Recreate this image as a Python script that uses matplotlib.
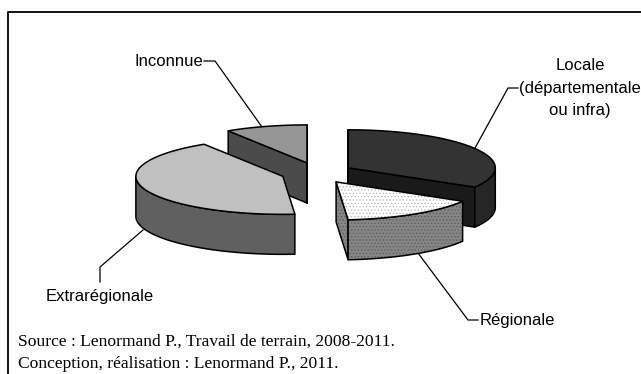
import numpy as np
import matplotlib
matplotlib.use("Agg")
import matplotlib.pyplot as plt
from matplotlib.patches import Polygon

## Data: shares of the pie in percent, clockwise from the top
labels = ["Locale", "Régionale", "Extrarégionale", "Inconnue"]
shares = [33.5, 15.2, 42.3, 9]

## Colours of each slice
top_colors = ["#333333", "#ffffff", "#c0c0c0", "#969696"]
rim_colors = ["#262626", "#858585", "#606060", "#4b4b4b"]
face_colors = ["#1a1a1a", "#858585", "#606060", "#4b4b4b"]
dotted = [False, True, False, False]

## Geometry in pixels
W, H = 641, 374
cx, cy = 317, 173 # middle of the pie
rx, ry = 147, 38 # ellipse of the top
depth = 40
explode_x, explode_y = 36, 10.5

plt.rcParams["hatch.linewidth"] = 0.5

fig = plt.figure(figsize=(W / 100, H / 100), dpi=100)
ax = fig.add_axes([0, 0, 1, 1])
ax.set_xlim(0, W)
ax.set_ylim(H, 0)
ax.axis("off")

# frame, open on the right and at the bottom
ax.plot([8, 8, 641], [374, 12, 12], color="black", lw=1.3, clip_on=False)


def shape(pts, color, dots=None, z=2):
    ax.add_patch(Polygon(pts, closed=True, facecolor=color, edgecolor="none", zorder=z))
    if dots:
        ax.add_patch(Polygon(pts, closed=True, facecolor="none", edgecolor=dots, hatch=".....", lw=0, zorder=z))
    ax.add_patch(Polygon(pts, closed=True, facecolor="none", edgecolor="black", lw=1.1, joinstyle="round", zorder=z))


def rim(x0, y0, a):
    t = np.radians(a)
    return np.column_stack([x0 + rx * np.cos(t), y0 - ry * np.sin(t)])


# slice angles, degrees counter-clockwise from the right
edges = 90 - np.cumsum([0] + shares) * 3.6

# back to front
for i in [3, 2, 0, 1]:
    a0, a1 = edges[i], edges[i + 1]
    mid = np.radians((a0 + a1) / 2)
    x0 = cx + explode_x * np.cos(mid)
    y0 = cy - explode_y * np.sin(mid)
    dots = "#5a5a5a" if dotted[i] else None
    drop = np.array([0, depth])
    apex = np.array([x0, y0])
    # side faces going from the centre to the rim, only those turned to the viewer
    for a in (a0, a1):
        c = np.cos(np.radians(a))
        if (a == a0 and c > 0.01) or (a == a1 and c < -0.01):
            continue
        p = rim(x0, y0, np.array([a]))[0]
        shape([apex, p, p + drop, apex + drop], face_colors[i], dots)
    # outer wall, lower half of the ellipse only
    ang = np.linspace(a0, a1, 80)
    ang = ang[np.sin(np.radians(ang)) <= 0]
    if len(ang) > 1:
        front = rim(x0, y0, ang)
        shape(np.vstack([front, (front + drop)[::-1]]), rim_colors[i], dots)
    # top
    top = np.vstack([apex, rim(x0, y0, np.linspace(a0, a1, 80))])
    shape(top, top_colors[i], "#b0b0b0" if dotted[i] else None, z=3)

# leader lines
ax.plot([204, 215, 262], [61, 61, 127], color="black", lw=0.9, zorder=1)
ax.plot([518, 508, 475], [88, 88, 148], color="black", lw=0.9, zorder=1)
ax.plot([100, 100, 143], [282, 267, 230], color="black", lw=0.9, zorder=1)
ax.plot([478, 468, 418], [320, 320, 253], color="black", lw=0.9, zorder=1)

# labels
sans = dict(family="Liberation Sans", fontsize=12, color="black")
ax.text(168.5, 61, "Inconnue", ha="center", va="center", **sans)
ax.text(580, 88, "Locale\n(départementale\nou infra)", ha="center", va="center", linespacing=1.6, **sans)
ax.text(100, 297, "Extrarégionale", ha="center", va="center", **sans)
ax.text(517, 320, "Régionale", ha="center", va="center", **sans)

serif = dict(family="Liberation Serif", fontsize=12.6, color="black")
ax.text(18, 342, "Source : Lenormand P., Travail de terrain, 2008-2011.", ha="left", va="center", **serif)
ax.text(18, 364, "Conception, réalisation : Lenormand P., 2011.", ha="left", va="center", **serif)

fig.savefig("out.png", dpi=100)
